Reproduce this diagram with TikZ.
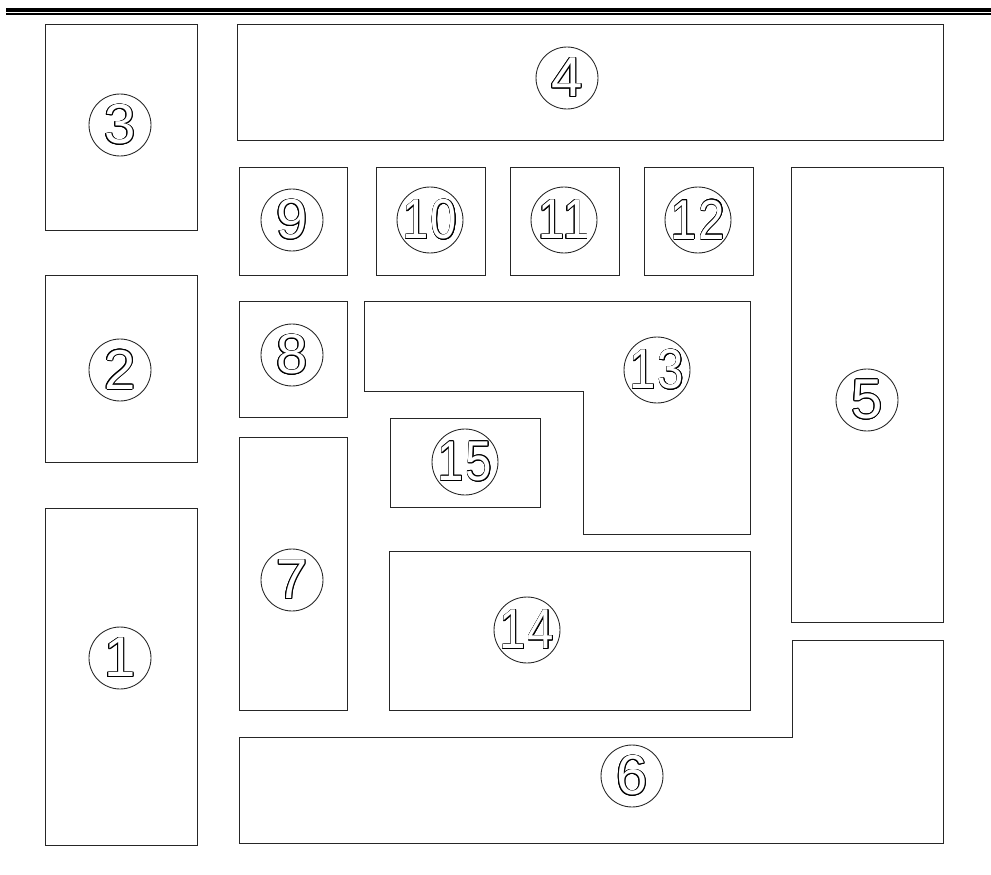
\documentclass[tikz,border=0pt]{standalone}
\usepackage{fontspec}
\newfontfamily\numfont[LetterSpace=4]{Liberation Sans}
\usepackage{xcolor}
\usepackage{graphicx}
\usepackage{contour}
\contourlength{0.45pt}
\usepackage{tikz}
\newcommand{\hollownum}[1]{\makebox[0pt][c]{\contour{black}{\textcolor{white}{#1}}}}
\newcommand{\hollowpair}[1]{\makebox[0pt][c]{\scalebox{0.84}[1]{\contour{black}{\textcolor{white}{#1}}}}}

\begin{document}
\begin{tikzpicture}[x=0.02cm, y=-0.02cm,
      room/.style={draw=black!85, line width=0.55pt},
      num/.style={draw=black!85, circle, line width=0.5pt,
                  minimum size=1.24cm, inner sep=0pt,
                  font=\numfont\fontsize{32}{32}\selectfont},
      wide/.style={num, minimum size=1.32cm},
      bar/.style={line width=1.9pt, black}
  ]
    \useasboundingbox (0,0) rectangle (991,875);
    % heavy rule along the top
    \draw[bar] (6,10) -- (991,10);
    \draw[line width=1.2pt] (6,14) -- (991,14);
    % rooms
    \draw[room] (45,24) rectangle (197,230);   % 3
    \draw[room] (237,24) rectangle (943,140);  % 4
    \draw[room] (45,275) rectangle (197,462);  % 2
    \draw[room] (45,508) rectangle (197,845);  % 1
    \draw[room] (239,167) rectangle (347,275); % 9
    \draw[room] (376,167) rectangle (485,275); % 10
    \draw[room] (510,167) rectangle (619,275); % 11
    \draw[room] (644,167) rectangle (753,275); % 12
    \draw[room] (791,167) rectangle (943,622); % 5
    \draw[room] (239,301) rectangle (347,417); % 8
    \draw[room] (239,437) rectangle (347,710); % 7
    \draw[room] (390,418) rectangle (540,507); % 15
    \draw[room] (389,551) rectangle (750,710); % 14
    \draw[room] (364,301) -- (750,301) -- (750,534) -- (583,534)
                -- (583,391) -- (364,391) -- cycle; % 13
    \draw[room] (239,737) -- (792,737) -- (792,640) -- (943,640)
                -- (943,843) -- (239,843) -- cycle; % 6
    % room numbers
    \node[num] (n1) at (120,658) {\hollownum{1}};
    \node[num] (n2) at (120,370) {\hollownum{2}};
    \node[num] (n3) at (120,125) {\hollownum{3}};
    \node[num] (n4) at (567,78) {\hollownum{4}};
    \node[num] (n5) at (867,400) {\hollownum{5}};
    \node[num] (n6) at (632,776) {\hollownum{6}};
    \node[num] (n7) at (292,580) {\hollownum{7}};
    \node[num] (n8) at (292,355) {\hollownum{8}};
    \node[num] (n9) at (292,220) {\hollownum{9}};
    \node[wide] (n10) at (430,220) {\hollowpair{10}};
    \node[wide] (n11) at (564,220) {\hollowpair{11}};
    \node[wide] (n12) at (698,220) {\hollowpair{12}};
    \node[wide] (n13) at (657,370) {\hollowpair{13}};
    \node[wide] (n14) at (527,630) {\hollowpair{14}};
    \node[wide] (n15) at (465,462) {\hollowpair{15}};
\end{tikzpicture}
\end{document}
